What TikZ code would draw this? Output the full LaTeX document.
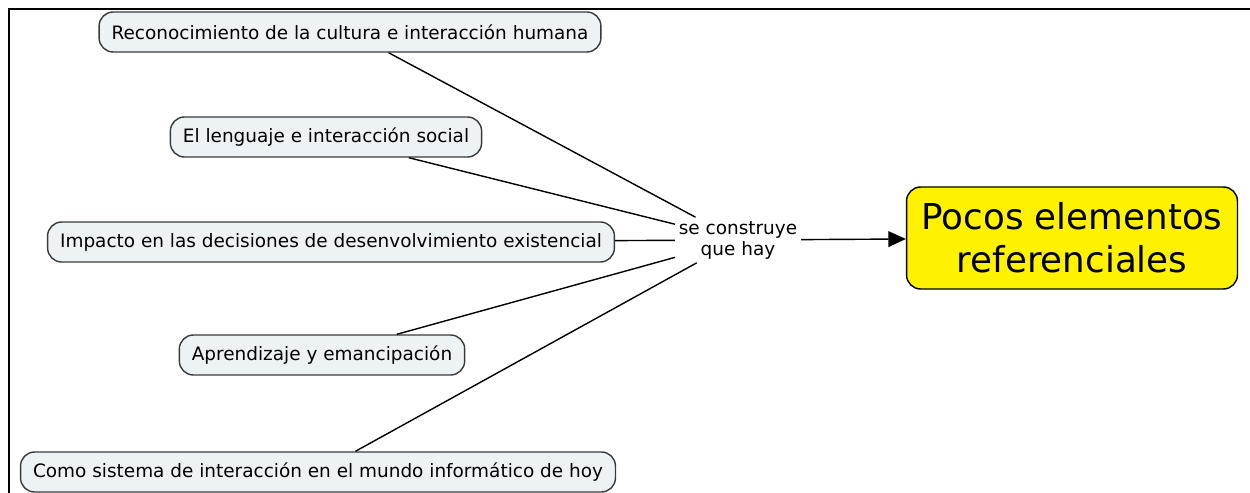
\documentclass[tikz,border=0pt]{standalone}
\usepackage{fontspec}
\setmainfont{DejaVu Sans}
\usetikzlibrary{arrows.meta}
\definecolor{cajafondo}{HTML}{EDF3F5}
\definecolor{cajaborde}{HTML}{3A3A3A}
\tikzset{
  caja/.style={draw=cajaborde, fill=cajafondo, rounded corners=8pt, thick,
    minimum height=0.8cm, inner xsep=0.25cm, font=\fontsize{10.5}{12}\selectfont},
  meta/.style={draw=black, fill=yellow, rounded corners=8pt, thick, align=center,
    minimum height=2.04cm, inner xsep=0.3cm, font=\fontsize{20.3}{24.5}\selectfont},
  enlace/.style={align=center, inner sep=2pt, font=\fontsize{10.5}{12}\selectfont},
  linea/.style={draw=black, thick}
}
\begin{document}
\begin{tikzpicture}[x=0.02cm, y=0.02cm]
    \useasboundingbox (0,0) rectangle (1250,-493);
    % marco
    \draw[line width=1.6pt] (9,-493) -- (9,-9) -- (1250,-9);

    \node[caja] (cultura) at (350,-32) {Reconocimiento de la cultura e interacción humana};
    \node[caja] (lenguaje) at (326,-137) {El lenguaje e interacción social};
    \node[caja] (impacto) at (331,-242) {Impacto en las decisiones de desenvolvimiento existencial};
    \node[caja] (aprendizaje) at (322,-355) {Aprendizaje y emancipación};
    \node[caja] (sistema) at (318,-472) {Como sistema de interacción en el mundo informático de hoy};

    \node[enlace] (construye) at (738,-240) {se construye\\que hay};
    \node[meta] (pocos) at (1072,-238) {Pocos elementos\\referenciales};

    \draw[linea] (cultura) -- (construye);
    \draw[linea] (lenguaje) -- (construye);
    \draw[linea] (impacto) -- (construye);
    \draw[linea] (aprendizaje) -- (construye);
    \draw[linea] (sistema) -- (construye);
    \draw[linea, -{Triangle[length=10pt, width=9pt]}] (construye) -- (pocos);
\end{tikzpicture}
\end{document}
